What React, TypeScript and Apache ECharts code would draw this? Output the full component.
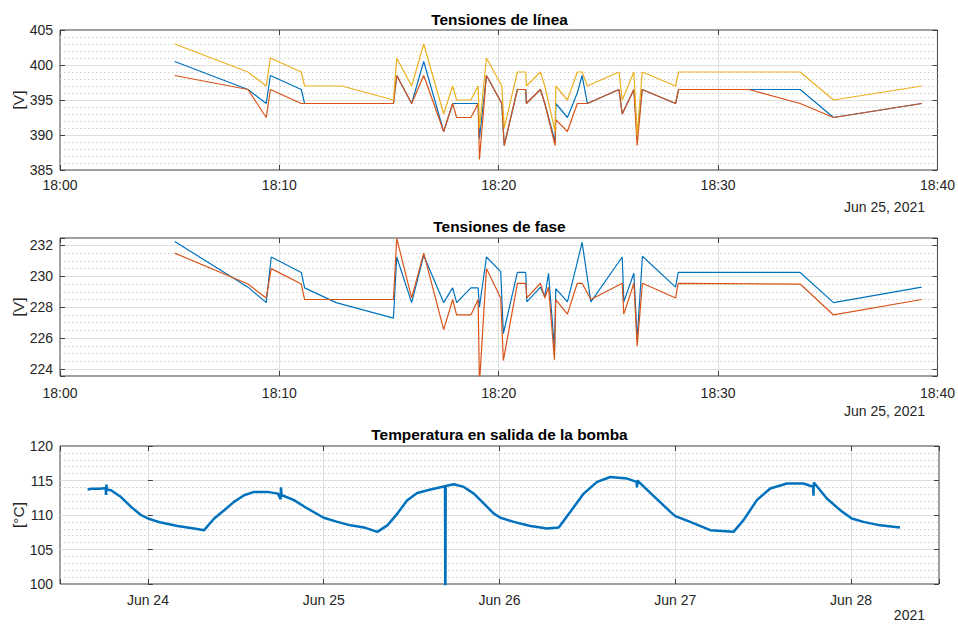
import React, { useEffect, useRef } from 'react';
import * as echarts from 'echarts';

// ---------- Data ----------
// Minutes after 18:00 (Jun 25, 2021)
const lineTimesMin = [5.23, 8.57, 9.4, 9.59, 11.0, 11.15, 12.85, 15.2, 15.35, 16.03, 16.58, 17.49, 17.9, 18.08, 18.73, 19.06, 19.12, 19.44, 20.14, 20.25, 20.85, 21.23, 21.26, 21.9, 22.1, 22.57, 22.6, 23.13, 23.58, 23.8, 24.04, 25.48, 25.63, 26.16, 26.31, 26.54, 28.06, 28.2, 31.4, 33.74, 35.26, 39.28];
const lineVab = [400.5, 396.5, 394.5, 398.5, 396.5, 394.5, 394.5, 394.5, 398.5, 394.5, 400.5, 390.5, 394.5, 394.5, 394.5, 394.5, 389.5, 398.5, 394.5, 388.5, 396.5, 396.5, 394.5, 396.5, 394.5, 389, 394.5, 392.5, 396, 398.5, 394.5, 396.5, 393, 396.5, 390, 396.5, 394.5, 396.5, 396.5, 396.5, 392.5, 394.5];
const lineVbc = [398.5, 396.5, 392.5, 396.5, 394.5, 394.5, 394.5, 394.5, 398.5, 394.5, 398.5, 390.5, 394.5, 392.5, 392.5, 394.5, 386.5, 398.5, 394.5, 388.5, 396.5, 396.5, 394.5, 396.5, 394.5, 388.5, 392.2, 390.5, 394.5, 394.5, 394.5, 396.5, 393, 396.5, 388.5, 396.5, 394.5, 396.5, 396.5, 394.5, 392.5, 394.5];
const lineVca = [403, 399, 397, 401, 399, 397, 397, 395, 401, 397, 403, 393, 397, 395, 395, 397, 391, 401, 397, 391, 399, 399, 397, 399, 397, 390.5, 397, 395, 399, 399, 397, 399, 395, 399, 390, 399, 397, 399, 399, 399, 395, 397];

const phaseTimesMin = [5.23, 8.57, 9.4, 9.63, 11.0, 11.15, 12.59, 15.2, 15.35, 16.03, 16.58, 17.49, 17.9, 18.08, 18.73, 19.06, 19.12, 19.44, 20.09, 20.21, 20.85, 21.23, 21.28, 21.9, 22.1, 22.27, 22.54, 22.6, 23.13, 23.58, 23.8, 24.2, 25.63, 25.7, 26.16, 26.31, 26.55, 28.06, 28.18, 33.74, 35.26, 39.28];
const phaseVa = [232.25, 229.3, 228.3, 231.25, 230.25, 229.25, 228.3, 227.3, 231.25, 228.3, 231.35, 228.3, 229.25, 228.3, 229.25, 229.25, 228.0, 231.25, 230.3, 226.3, 230.25, 230.25, 228.35, 229.3, 228.7, 230.2, 225.3, 229.2, 228.35, 230.9, 232.2, 228.35, 231.25, 228.35, 230.2, 225.9, 231.3, 229.3, 230.25, 230.25, 228.3, 229.3];
const phaseVb = [231.5, 229.5, 228.6, 230.5, 229.5, 228.5, 228.5, 228.5, 232.45, 228.6, 231.5, 226.55, 228.5, 227.5, 227.5, 228.5, 223.0, 230.5, 228.6, 224.55, 229.55, 229.55, 228.6, 229.55, 228.6, 229.3, 224.6, 228.5, 227.55, 229.55, 229.55, 228.5, 229.55, 227.55, 229.55, 225.5, 229.55, 228.6, 229.55, 229.5, 227.5, 228.5];

// Days since Jun 24, 2021 00:00
const tempDays = [-0.343, -0.32, -0.27, -0.24, -0.238, -0.236, -0.234, -0.21, -0.153, -0.097, -0.04, 0.0, 0.074, 0.169, 0.263, 0.32, 0.377, 0.434, 0.49, 0.547, 0.604, 0.68, 0.74, 0.755, 0.757, 0.76, 0.831, 0.907, 1.0, 1.078, 1.153, 1.229, 1.305, 1.362, 1.419, 1.475, 1.532, 1.608, 1.69, 1.692, 1.694, 1.74, 1.797, 1.854, 1.91, 1.968, 2.006, 2.081, 2.176, 2.271, 2.337, 2.403, 2.479, 2.555, 2.631, 2.726, 2.78, 2.782, 2.784, 2.858, 2.972, 3.0, 3.085, 3.199, 3.331, 3.388, 3.464, 3.54, 3.635, 3.729, 3.784, 3.786, 3.788, 3.862, 3.938, 4.004, 4.07, 4.165, 4.278];
const tempC = [113.7, 113.8, 113.8, 113.9, 112.9, 114.4, 113.7, 113.6, 112.6, 111.2, 110.0, 109.5, 108.9, 108.4, 108.05, 107.8, 109.5, 110.7, 111.9, 112.87, 113.35, 113.35, 113.1, 112.3, 114.0, 112.9, 112.15, 110.95, 109.6, 109.0, 108.5, 108.2, 107.56, 108.5, 110.2, 112.15, 113.2, 113.7, 114.17, 96, 114.2, 114.46, 114.07, 113.1, 111.67, 110.2, 109.6, 109.0, 108.4, 108.05, 108.2, 110.46, 113.1, 114.8, 115.5, 115.28, 114.8, 114.0, 115.0, 113.2, 110.46, 109.84, 109.0, 107.8, 107.56, 109.26, 112.15, 113.84, 114.56, 114.56, 114.1, 112.8, 114.7, 112.4, 110.7, 109.5, 109.0, 108.5, 108.2];

const clockLabels = ['18:00', '18:10', '18:20', '18:30', '18:40'];
const dayLabels = ['Jun 24', 'Jun 25', 'Jun 26', 'Jun 27', 'Jun 28'];
const titles = ['Tensiones de línea', 'Tensiones de fase', 'Temperatura en salida de la bomba'];
const yNames = ['[V]', '[V]', '[°C]'];
const dateNotes = ['Jun 25, 2021', 'Jun 25, 2021', '2021'];

// ---------- Styles ----------
const FONT = '"Liberation Sans", Arial, Helvetica, sans-serif';
const TXT = '#262626';
const BORDER = '#404040';
const GRIDC = '#dfdfdf';
const MINORC = '#d0d0d0';
const C_BLUE = '#0072BD';
const C_RED = '#D95319';
const C_YEL = '#EDB120';

const near = (v: number, k: number) => Math.abs(v - k) < 1e-6;

const clockFmt = (v: number) => {
  const i = Math.round(v / 10);
  return near(v, i * 10) && clockLabels[i] ? clockLabels[i] : '';
};
const dayFmt = (v: number) => {
  const i = Math.round(v);
  return near(v, i) && dayLabels[i] ? dayLabels[i] : '';
};

function makeX(gridIndex: number, min: number, max: number, cfg: any, fmt: any, margin: number) {
  const tick = { show: true, inside: true, length: 5, lineStyle: { color: BORDER, width: 1 } };
  return [
    {
      type: 'value', gridIndex, position: 'bottom', min, max, ...cfg,
      axisLine: { show: false }, axisTick: tick,
      axisLabel: { formatter: fmt, margin, fontSize: 14, color: TXT, fontFamily: FONT, showMinLabel: true, showMaxLabel: true },
      splitLine: { show: true, showMinLine: false, showMaxLine: false, lineStyle: { color: GRIDC, width: 1 } },
    },
    {
      type: 'value', gridIndex, position: 'top', min, max, ...cfg,
      axisLine: { show: false }, axisTick: tick, axisLabel: { show: false }, splitLine: { show: false },
    },
  ];
}

function makeY(gridIndex: number, min: number, max: number, majorCfg: any, minorCfg: any, fmt: any) {
  const tick = { show: true, inside: true, length: 5, lineStyle: { color: BORDER, width: 1 } };
  return [
    {
      type: 'value', gridIndex, position: 'left', min, max, ...minorCfg,
      axisLine: { show: false }, axisTick: { show: false }, axisLabel: { show: false },
      splitLine: { show: true, showMinLine: false, showMaxLine: false, lineStyle: { color: MINORC, width: 1, type: [1.5, 2.5] } },
    },
    {
      type: 'value', gridIndex, position: 'left', min, max, ...majorCfg,
      axisLine: { show: false }, axisTick: tick,
      axisLabel: { formatter: fmt, margin: 7, fontSize: 14, color: TXT, fontFamily: FONT },
      splitLine: { show: true, showMinLine: false, showMaxLine: false, lineStyle: { color: GRIDC, width: 1 } },
    },
    {
      type: 'value', gridIndex, position: 'right', min, max, ...majorCfg,
      axisLine: { show: false }, axisTick: tick, axisLabel: { show: false }, splitLine: { show: false },
    },
  ];
}

const gridBox = (top: number, height: number) => ({
  left: 60, top, width: 879, height, show: true, borderColor: BORDER, borderWidth: 1, backgroundColor: 'transparent',
});

const lineSeries = (name: string, xs: number[], ys: number[], color: string, g: number, width = 1.2) => ({
  name, type: 'line', xAxisIndex: g * 2, yAxisIndex: g * 3 + 1,
  data: xs.map((x, i) => [x, ys[i]]), showSymbol: false, symbol: 'none',
  lineStyle: { color, width }, itemStyle: { color }, clip: true, z: 3,
});

export default function App() {
  const ref = useRef<HTMLDivElement>(null);
  useEffect(() => {
    if (!ref.current) return;
    const chart = echarts.init(ref.current, undefined, { renderer: 'svg' });
    const grids = [gridBox(30, 140), gridBox(238, 138), gridBox(446, 138)];
    const xAxis = [
      ...makeX(0, 0, 40, { interval: 10 }, clockFmt, 8),
      ...makeX(1, 0, 40, { interval: 10 }, clockFmt, 10),
      ...makeX(2, -0.5, 4.5, { splitNumber: 5 }, dayFmt, 9),
    ];
    const yAxis = [
      ...makeY(0, 385, 405, { interval: 5 }, { interval: 1 }, (v: number) => String(v)),
      ...makeY(1, 223.55, 232.48, { splitNumber: 4 }, { splitNumber: 18 },
        (v: number) => (near(v, Math.round(v)) && Math.round(v) % 2 === 0 ? String(Math.round(v)) : '')),
      ...makeY(2, 100, 120, { interval: 5 }, { interval: 1 }, (v: number) => String(v)),
    ];
    const centers = [100, 307, 515];
    const titleY = [19, 226, 434];
    const noteY = [207, 411, 615];
    const graphic: any[] = [];
    for (let i = 0; i < 3; i++) {
      graphic.push({
        type: 'text', x: 499.5, y: titleY[i], silent: true,
        style: { text: titles[i], fontFamily: FONT, fontSize: 15.4, fontWeight: 'bold', fill: '#000', textAlign: 'center', textVerticalAlign: 'middle' },
      });
      graphic.push({
        type: 'text', x: 18, y: centers[i], rotation: Math.PI / 2, silent: true,
        style: { text: yNames[i], fontFamily: FONT, fontSize: 15.4, fill: TXT, textAlign: 'center', textVerticalAlign: 'middle' },
      });
      graphic.push({
        type: 'text', x: 925, y: noteY[i], silent: true,
        style: { text: dateNotes[i], fontFamily: FONT, fontSize: 14, fill: TXT, textAlign: 'right', textVerticalAlign: 'middle' },
      });
    }
    chart.setOption({
      animation: false,
      backgroundColor: '#ffffff',
      grid: grids,
      xAxis,
      yAxis,
      graphic,
      series: [
        lineSeries('Vab', lineTimesMin, lineVab, C_BLUE, 0),
        lineSeries('Vbc', lineTimesMin, lineVbc, C_RED, 0),
        lineSeries('Vca', lineTimesMin, lineVca, C_YEL, 0),
        lineSeries('Va', phaseTimesMin, phaseVa, C_BLUE, 1),
        lineSeries('Vb', phaseTimesMin, phaseVb, C_RED, 1),
        lineSeries('T', tempDays, tempC, C_BLUE, 2, 2.5),
      ],
    });
    return () => chart.dispose();
  }, []);
  return (
    <div
      ref={ref}
      style={{ position: 'fixed', left: 0, top: 0, width: 958, height: 626, background: '#fff' }}
    />
  );
}
